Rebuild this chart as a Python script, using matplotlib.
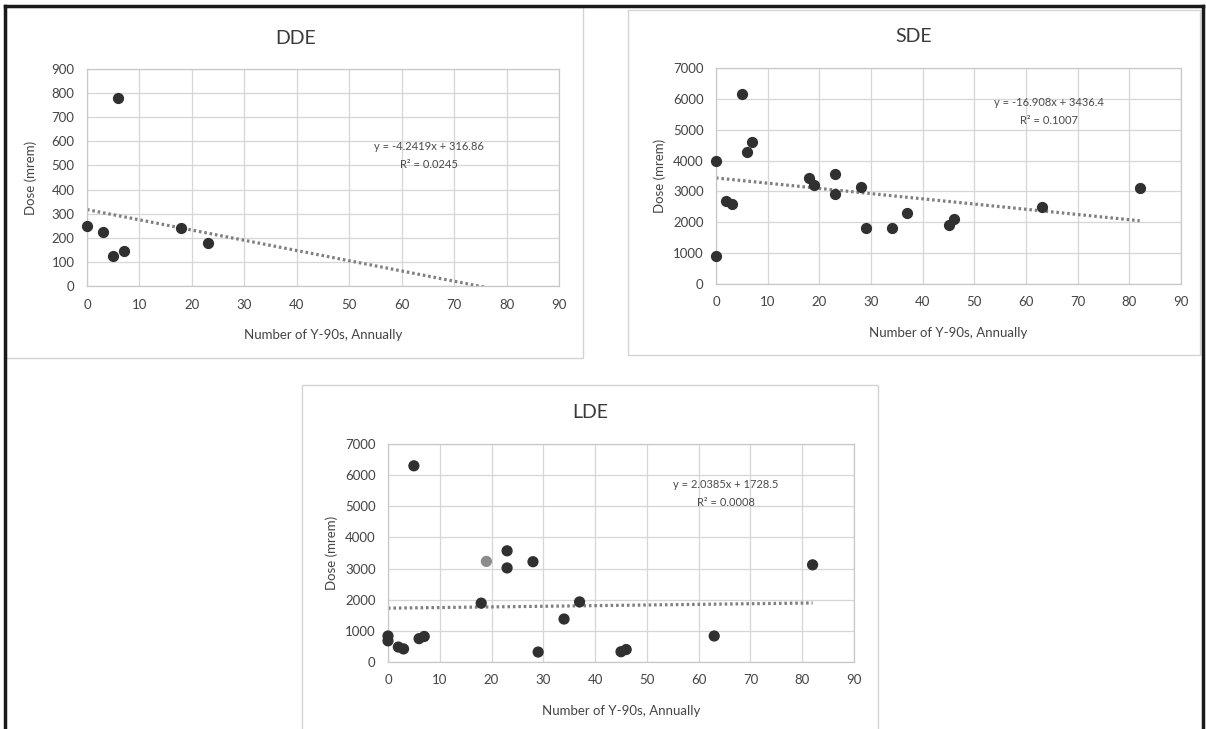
import matplotlib
matplotlib.use("Agg")
import matplotlib.pyplot as plt
from matplotlib.lines import Line2D
from matplotlib.patches import Rectangle
import numpy as np

plt.rcParams['font.family'] = ['Lato', 'DejaVu Sans']

# data
dde_x = [0, 3, 5, 6, 7, 18, 23]
dde_y = [250, 224, 124, 780, 145, 240, 178]
dde_fit = [-4.2419, 316.86]
dde_eq = ["y = -4.2419x + 316.86", "R² = 0.0245"]

sde_x = [0, 0, 2, 3, 5, 6, 7, 18, 19, 23, 23, 28, 29, 34, 37, 45, 46, 63, 82]
sde_y = [4000, 900, 2700, 2600, 6150, 4280, 4600, 3420, 3200, 3580, 2920,
         3150, 1800, 1830, 2300, 1920, 2100, 2500, 3120]
sde_fit = [-16.908, 3436.4]
sde_eq = ["y = -16.908x + 3436.4", "R² = 0.1007"]

lde_x = [0, 0, 2, 3, 5, 6, 7, 18, 19, 23, 23, 28, 29, 34, 37, 45, 46, 63, 82]
lde_y = [835, 680, 480, 420, 6300, 750, 820, 1890, 3230, 3570, 3020,
         3220, 320, 1380, 1930, 330, 400, 835, 3120]
lde_fit = [2.0385, 1728.5]
lde_eq = ["y = 2.0385x + 1728.5", "R² = 0.0008"]

x_ticks = list(range(0, 91, 10))
dde_yticks = list(range(0, 901, 100))
dose_yticks = list(range(0, 7001, 1000))

W, H = 1206, 729
fig = plt.figure(figsize=(W / 100, H / 100), dpi=100)
fig.patch.set_facecolor('white')


def fx(px):
    return px / W


def fy(py):
    return 1 - py / H


def box(l, t, r, b, color='#d4d4d4', lw=1.0):
    fig.add_artist(Rectangle((fx(l), fy(b)), fx(r) - fx(l), fy(t) - fy(b),
                             transform=fig.transFigure, fill=False,
                             edgecolor=color, linewidth=lw))


def panel(rect, xs, ys, fit, eq, yticks, title, title_pos, eq_pos, colors=None):
    l, t, r, b = rect
    ax = fig.add_axes([fx(l), fy(b), fx(r) - fx(l), fy(t) - fy(b)])
    ax.set_xlim(0, 90)
    ax.set_ylim(yticks[0], yticks[-1])
    ax.set_xticks(x_ticks)
    ax.set_yticks(yticks)
    ax.grid(True, color='#d6d6d6', linewidth=0.9)
    ax.set_axisbelow(True)
    for s in ax.spines.values():
        s.set_color('#c8c8c8')
        s.set_linewidth(0.9)
    ax.tick_params(length=0, labelsize=9.5, colors='#444444', pad=9)

    xx = np.array([0, 82])
    ax.plot(xx, fit[0] * xx + fit[1], color='#7f7f7f', linewidth=2.3,
            linestyle=(0, (0.8, 0.9)), zorder=2)
    if colors is None:
        colors = '#303030'
    ax.scatter(xs, ys, s=50, color=colors, zorder=3, clip_on=False)

    ax.set_xlabel("Number of Y-90s, Annually", fontsize=9.5, color='#444444')
    ax.xaxis.set_label_coords(0.5, -(fy(b) - fy(b + 43)) / (fy(t) - fy(b)))
    ax.set_ylabel("Dose (mrem)", fontsize=9.5, color='#444444')
    ax.yaxis.set_label_coords(-(fx(l) - fx(l - 50)) / (fx(r) - fx(l)), 0.5)

    fig.text(fx(title_pos[0]), fy(title_pos[1]), title, fontsize=14,
             color='#3a3a3a', ha='center', va='center')
    fig.text(fx(eq_pos[0]), fy(eq_pos[1]), eq[0], fontsize=8,
             color='#4a4a4a', ha='center', va='center')
    fig.text(fx(eq_pos[0]), fy(eq_pos[1] + 18), eq[1], fontsize=8,
             color='#4a4a4a', ha='center', va='center')
    return ax


# chart area boxes
box(6, 7, 583, 358)
box(628, 10, 1200, 355)
box(302, 385, 878, 740)

panel((87, 69, 559, 286), dde_x, dde_y, dde_fit, dde_eq, dde_yticks,
      "DDE", (296, 38), (429, 146))
panel((716, 68, 1181, 284), sde_x, sde_y, sde_fit, sde_eq, dose_yticks,
      "SDE", (914, 37), (1049, 103))
lde_colors = ['#8c8c8c' if i == 8 else '#303030' for i in range(len(lde_x))]
panel((388, 444, 854, 662), lde_x, lde_y, lde_fit, lde_eq, dose_yticks,
      "LDE", (590, 413), (726, 484), colors=lde_colors)

# black outer frame of the scanned page
for xs, ys in [((5, 5), (6, 729)), ((5, 1203), (6, 6)), ((1203, 1203), (6, 729))]:
    fig.add_artist(Line2D([fx(xs[0]), fx(xs[1])], [fy(ys[0]), fy(ys[1])],
                          transform=fig.transFigure, color='#1a1a1a', linewidth=2.5))

fig.savefig("out.png", dpi=100)
